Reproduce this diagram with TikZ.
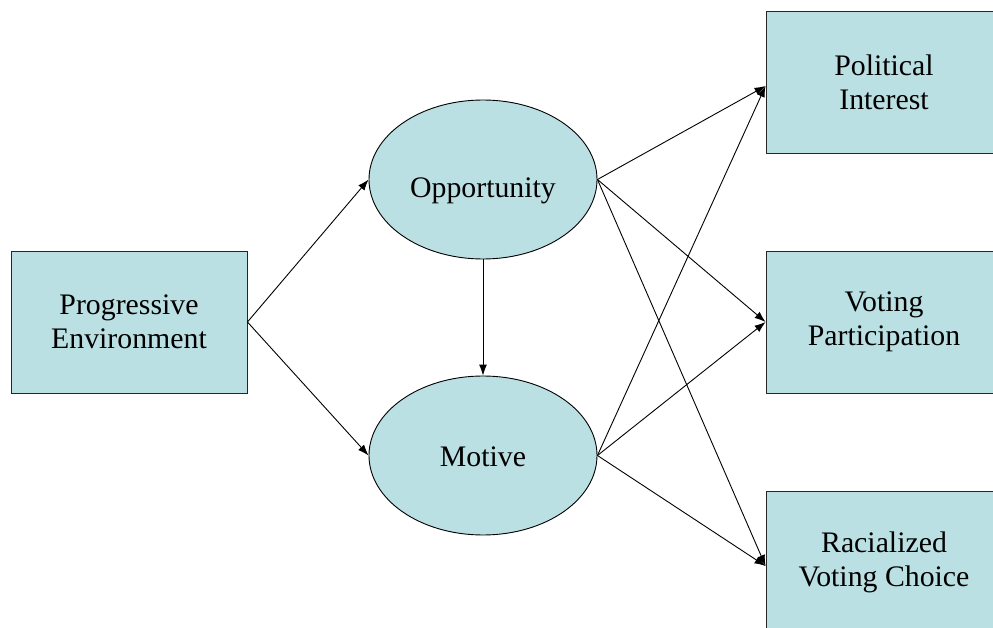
\documentclass[tikz,border=0pt]{standalone}
\usepackage{fontspec}
\setmainfont{Liberation Serif}
\usetikzlibrary{shapes.geometric,arrows.meta}
\definecolor{boxfill}{RGB}{187,224,227}
\begin{document}
\begin{tikzpicture}[x=1pt,y=-1pt,
  every node/.style={font=\fontsize{29.8}{34}\selectfont, align=center, text=black},
  boxnode/.style={draw=black!85, line width=0.9pt, fill=boxfill, rectangle, minimum width=236pt, minimum height=142pt, inner sep=0pt},
  ellnode/.style={draw=black, line width=0.9pt, fill=boxfill, ellipse, minimum width=228pt, minimum height=159pt, inner sep=0pt},
  conn/.style={line width=0.9pt, -{Latex[length=11pt,width=8pt]}}]
\useasboundingbox (0,0) rectangle (993,628);
\clip (0,0) rectangle (993,628);
\node[boxnode] (pe) at (129,322) {Progressive\\Environment};
\node[ellnode] (opp) at (483,179.5) {};
\node (opptext) at (483,191) {Opportunity};
\node[ellnode] (mot) at (483,455.5) {};
\node (mottext) at (483,457) {Motive};
\node[boxnode] (pi) at (884,82) {Political\\Interest};
\node[boxnode] (vp) at (884,322) {Voting\\Participation};
\node[boxnode] (rv) at (884,562) {Racialized\\Voting Choice};
\draw[conn] (pe.east) -- (opp.west);
\draw[conn] (pe.east) -- (mot.west);
\draw[conn] (opp.south) -- (mot.north);
\draw[conn] (opp.east) -- ([yshift=-4pt]pi.west);
\draw[conn] (opp.east) -- (vp.west);
\draw[conn] (opp.east) -- ([yshift=-4pt]rv.west);
\draw[conn] (mot.east) -- ([yshift=-4pt]pi.west);
\draw[conn] (mot.east) -- (vp.west);
\draw[conn] (mot.east) -- ([yshift=-4pt]rv.west);
\end{tikzpicture}
\end{document}
